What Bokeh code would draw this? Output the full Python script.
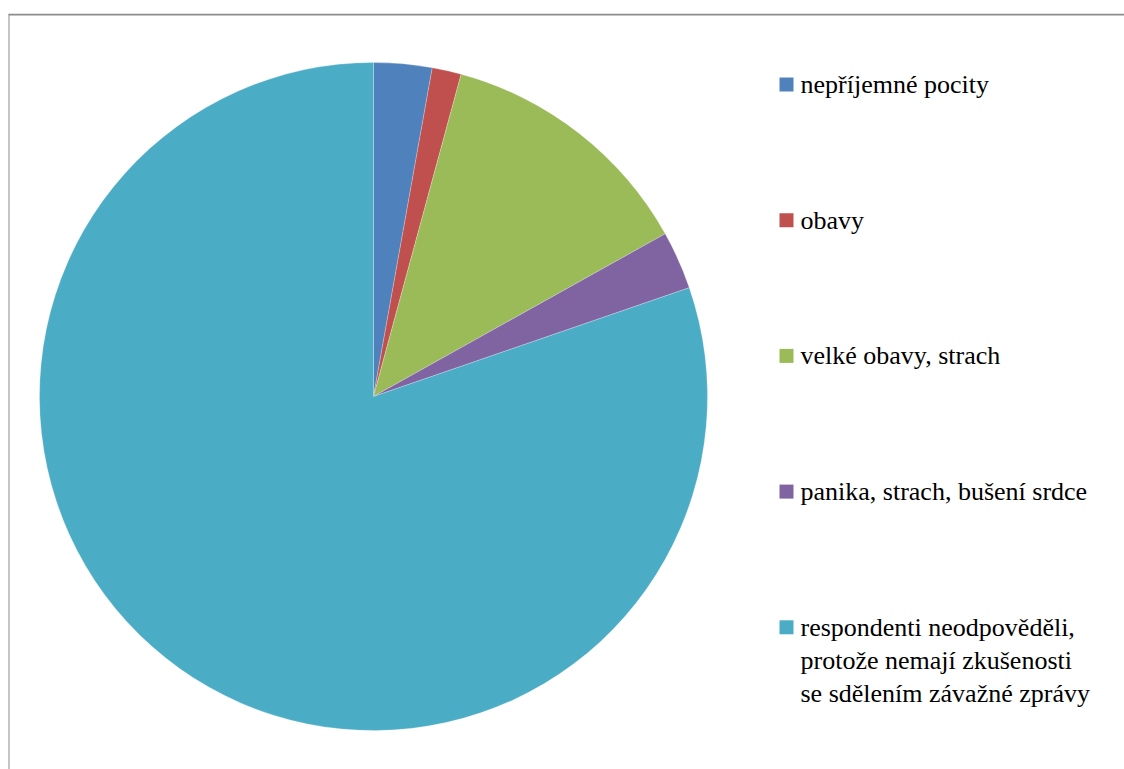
import math
from bokeh.plotting import figure
from bokeh.models import Range1d, Span, ColumnDataSource, LabelSet
from bokeh.embed import file_html
from bokeh.resources import INLINE

# ---- data ----
categories = [
    "nepříjemné pocity",
    "obavy",
    "velké obavy, strach",
    "panika, strach, bušení srdce",
    "respondenti neodpověděli,\nprotože nemají zkušenosti\nse sdělením závažné zprávy",
]
counts = [2, 1, 9, 2, 57]
colors = ["#4F81BD", "#C0504D", "#9BBB59", "#8064A2", "#4BACC6"]

# ---- layout (pixel-like data units) ----
W, H = 1124, 769
BL, BT = 8, 13
FW, FH = W - BL, H - BT
cx, cy, r = 365, 373, 334

total = sum(counts)
starts, ends = [], []
acc = 0
for c in counts:
    starts.append(math.pi / 2 - 2 * math.pi * acc / total)
    acc += c
    ends.append(math.pi / 2 - 2 * math.pi * acc / total)

src = ColumnDataSource(dict(cat=categories, start=starts, end=ends, color=colors))

p = figure(width=W, height=H, output_backend="svg", toolbar_location=None,
           x_range=Range1d(0, FW), y_range=Range1d(0, FH),
           min_border_left=BL, min_border_top=BT, min_border_right=0, min_border_bottom=0)
p.axis.visible = False
p.grid.visible = False
p.outline_line_color = None
p.background_fill_color = "white"
p.border_fill_color = "white"

p.wedge(x=cx, y=cy, radius=r, start_angle="start", end_angle="end", direction="clock",
        fill_color="color", line_color="white", line_width=0.4, line_alpha=0.6, source=src)

# frame border (left and top visible)
p.add_layout(Span(location=0, dimension="height", line_color="#8c8c8c", line_width=2))
p.add_layout(Span(location=FH - 1, dimension="width", line_color="#8c8c8c", line_width=2))

# legend (manual)
lx_sq, lx_txt = 778, 792
ly0, lstep, lh = 685, 135.7, 33
ly = [ly0 - i * lstep for i in range(len(categories))]
p.scatter(x=[lx_sq] * len(categories), y=ly, marker="square", size=14,
          fill_color=colors, line_color=None)
tx, ty, tt = [], [], []
for yy, cat in zip(ly, categories):
    for j, line in enumerate(cat.split("\n")):
        tx.append(lx_txt)
        ty.append(yy - j * lh)
        tt.append(line)
lsrc = ColumnDataSource(dict(x=tx, y=ty, t=tt))
p.add_layout(LabelSet(x="x", y="y", text="t", source=lsrc,
                      text_font="Liberation Serif", text_font_size="26px",
                      text_color="#000000", text_baseline="middle", text_align="left"))

open("out.html", "w").write(file_html(p, INLINE))
